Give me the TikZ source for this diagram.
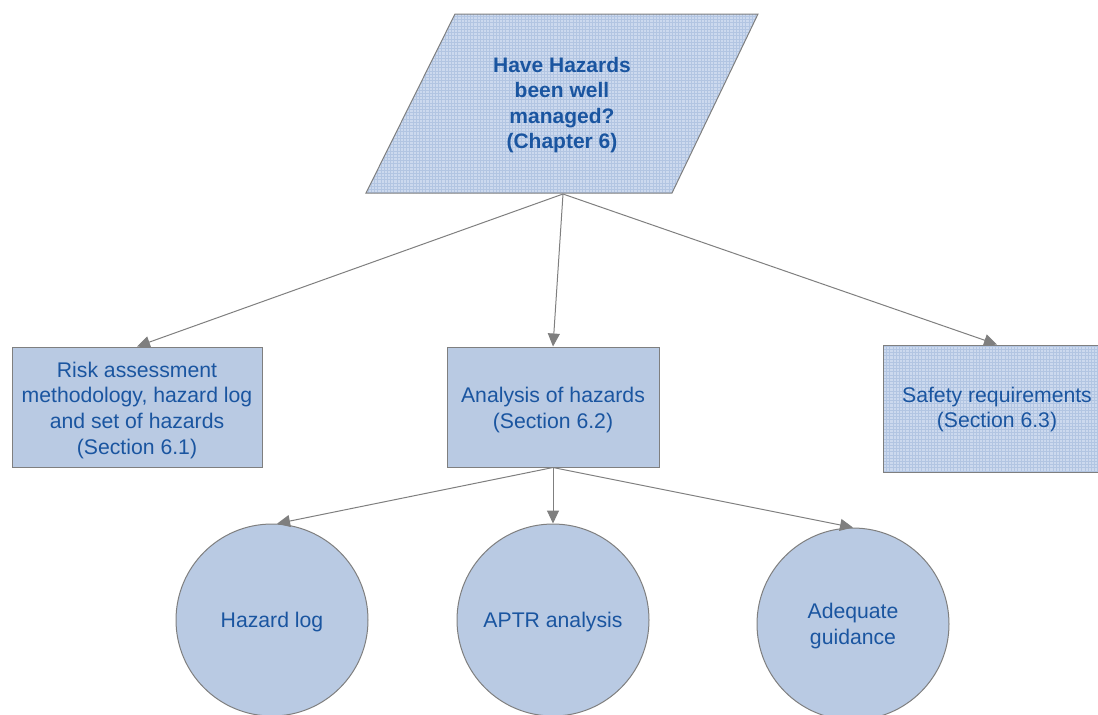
\documentclass[tikz,border=0pt]{standalone}
\usepackage{fontspec}
\setmainfont{Liberation Sans}
\usepackage{xcolor}
\usepackage{tikz}
\usetikzlibrary{arrows.meta,positioning,patterns}
\definecolor{boxblue}{HTML}{B9CAE3}
\definecolor{gridbase}{HTML}{CCD9EE}
\definecolor{gridline}{HTML}{B2C5E2}
\definecolor{txtblue}{HTML}{1A55A0}
\definecolor{edgegray}{HTML}{7F7F7F}
\pgfdeclarepatternformonly{finegrid}{\pgfqpoint{-1pt}{-1pt}}{\pgfqpoint{2.6pt}{2.6pt}}{\pgfqpoint{1.6pt}{1.6pt}}
{\pgfsetlinewidth{0.3pt}
 \pgfpathmoveto{\pgfqpoint{0pt}{0pt}}\pgfpathlineto{\pgfqpoint{0pt}{1.7pt}}
 \pgfpathmoveto{\pgfqpoint{0pt}{0pt}}\pgfpathlineto{\pgfqpoint{1.7pt}{0pt}}
 \pgfusepath{stroke}}

\begin{document}
\begin{tikzpicture}[x=.5pt,y=-.5pt,
  txt/.style={text=txtblue,font=\fontsize{10.6}{12.8}\selectfont,align=center,text depth=0pt},
  sectbox/.style={txt,draw=edgegray,line width=.5pt,fill=boxblue,inner sep=0pt},
  leaf/.style={txt,circle,draw=edgegray,line width=.5pt,fill=boxblue,minimum size=96pt,inner sep=0pt},
  link/.style={draw=edgegray,line width=.5pt,-{Triangle[length=6.5pt,width=6pt]}}]
\useasboundingbox (0,0) rectangle (1098,714);
\clip (0,0) rectangle (1098,714);
% question
\path[fill=gridbase] (455,14)--(758,14)--(672,193)--(366,193)--cycle;
\path[pattern=finegrid,pattern color=gridline] (455,14)--(758,14)--(672,193)--(366,193)--cycle;
\draw[edgegray,line width=.5pt] (455,14)--(758,14)--(672,193)--(366,193)--cycle;
\node[txt,font=\fontsize{10.5}{12.7}\selectfont\bfseries] (quest) at (562,103) {Have Hazards\\been well\\managed?\\(Chapter 6)};
\coordinate (qbot) at (563,194);
% sections
\path (137,407) node[sectbox,minimum width=125pt,minimum height=60pt] (risk) {}
  ++(0,1) node[txt] {Risk assessment\\methodology, hazard log\\and set of hazards\\(Section 6.1)};
\path (553,407) node[sectbox,minimum width=106pt,minimum height=60pt] (anal) {}
  ++(0,1) node[txt] {Analysis of hazards\\(Section 6.2)};
\path[fill=gridbase] (883,345) rectangle (1111,472);
\path[pattern=finegrid,pattern color=gridline] (883,345) rectangle (1111,472);
\path (997,408.5) node[sectbox,fill=none,minimum width=114pt,minimum height=63.5pt] (safe) {}
  ++(0,-1) node[txt] {Safety requirements\\(Section 6.3)};
% leaves
\node[leaf] (hlog) at (272,620) {Hazard log};
\node[leaf] (aptr) at (553,620) {APTR analysis};
\node[leaf] (guid) at (853,624) {Adequate\\guidance};
\draw[link] (qbot)--(risk.north);
\draw[link] (qbot)--(anal.north);
\draw[link] (qbot)--(safe.north);
\draw[link] (anal.south)--(hlog.87);
\draw[link] (anal.south)--(aptr.north);
\draw[link] (anal.south)--(guid.north);
\end{tikzpicture}
\end{document}
